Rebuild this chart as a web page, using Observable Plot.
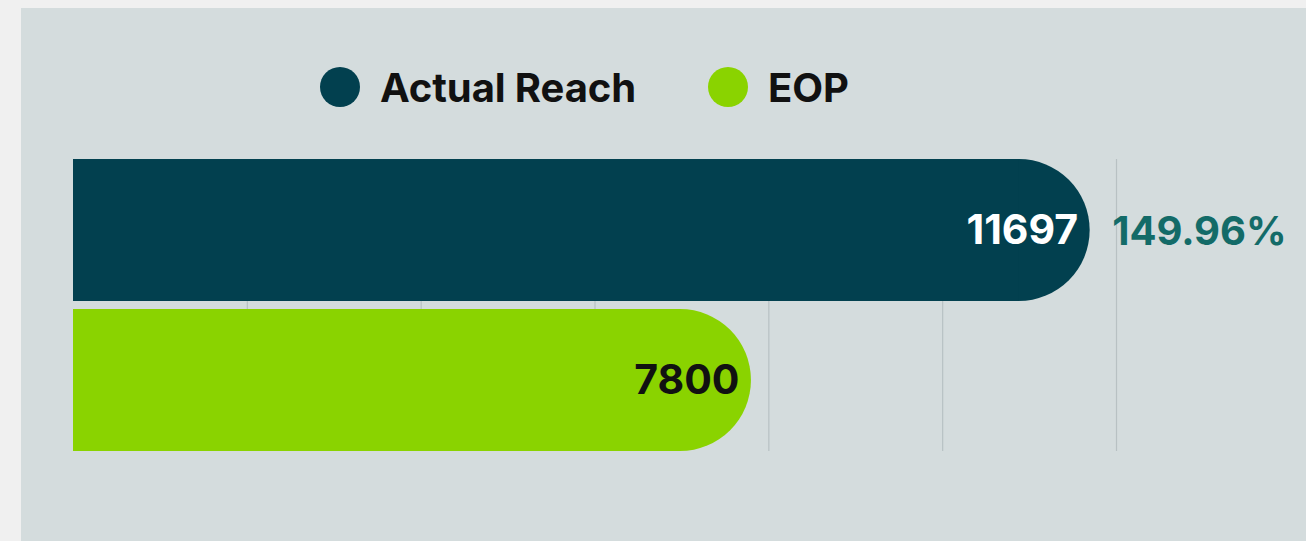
<!DOCTYPE html>
<html>
<head>
<meta charset="utf-8">
<script src="https://cdn.jsdelivr.net/npm/d3@7"></script>
<script src="https://cdn.jsdelivr.net/npm/@observablehq/plot@0.6"></script>
<style>
  html, body { margin: 0; padding: 0; }
  body { width: 1306px; height: 541px; background: #f0f0f0; overflow: hidden; position: relative; font-family: Inter, "Noto Sans", sans-serif; }
  #panel { position: absolute; left: 21px; top: 8px; width: 1285px; height: 533px; background: #d4dcdd; }
  #legend { position: absolute; left: 299px; top: 58px; height: 42px; display: flex; align-items: center; }
  .item { display: flex; align-items: center; margin-right: 72px; }
  .sw { width: 40px; height: 40px; border-radius: 50%; margin-right: 20px; }
  .lab { font-size: 40px; font-weight: 700; color: #111; letter-spacing: -0.1px; }
  #chart { position: absolute; left: 0; top: 132px; }
</style>
</head>
<body>
<div id="panel">
  <div id="legend"></div>
  <div id="chart"></div>
</div>
<script>
// ---- data ----
const categories = ["Actual Reach", "EOP"];
const values = [11697, 7800];
const xTicks = [2000, 4000, 6000, 8000, 10000, 12000];
const percentLabel = (values[0] / values[1] * 100).toFixed(2) + "%";

// ---- styles ----
const barColors = ["#02404f", "#8ad300"];
const labelColors = ["#ffffff", "#111111"];

const data = categories.map((c, i) => ({cat: c, value: values[i], bar: barColors[i], lab: labelColors[i]}));

// legend
const legend = document.getElementById("legend");
categories.forEach((c, i) => {
  const it = document.createElement("div");
  it.className = "item";
  it.innerHTML = `<div class="sw" style="background:${barColors[i]}"></div><div class="lab">${c}</div>`;
  legend.appendChild(it);
});

const chart = Plot.plot({
  width: 1285,
  height: 401,
  marginLeft: 52,
  marginRight: 190,
  marginTop: 19,
  marginBottom: 90,
  x: {domain: [0, 12000], axis: null},
  y: {domain: categories, axis: null, paddingInner: 8 / 150, paddingOuter: 0},
  color: {type: "identity"},
  style: {background: "transparent", fontFamily: "Inter, 'Noto Sans', sans-serif", overflow: "visible"},
  marks: [
    Plot.ruleX(xTicks, {x: d => d, stroke: "#b8c1c3", strokeWidth: 1.2}),
    Plot.barX(data, {x: "value", y: "cat", fill: "bar", rx: 71}),
    Plot.barX(data, {x: "value", y: "cat", fill: "bar", insetRight: 71}),
    Plot.text(data, {x: "value", y: "cat", text: d => String(d.value), textAnchor: "end", dx: -12, fill: "lab", fontSize: 41, fontWeight: 700}),
    Plot.text([data[0]], {x: "value", y: "cat", text: () => percentLabel, textAnchor: "start", dx: 22, dy: 2, fill: "#136b68", fontSize: 40, fontWeight: 700})
  ]
});
document.getElementById("chart").appendChild(chart);
</script>
</body>
</html>
